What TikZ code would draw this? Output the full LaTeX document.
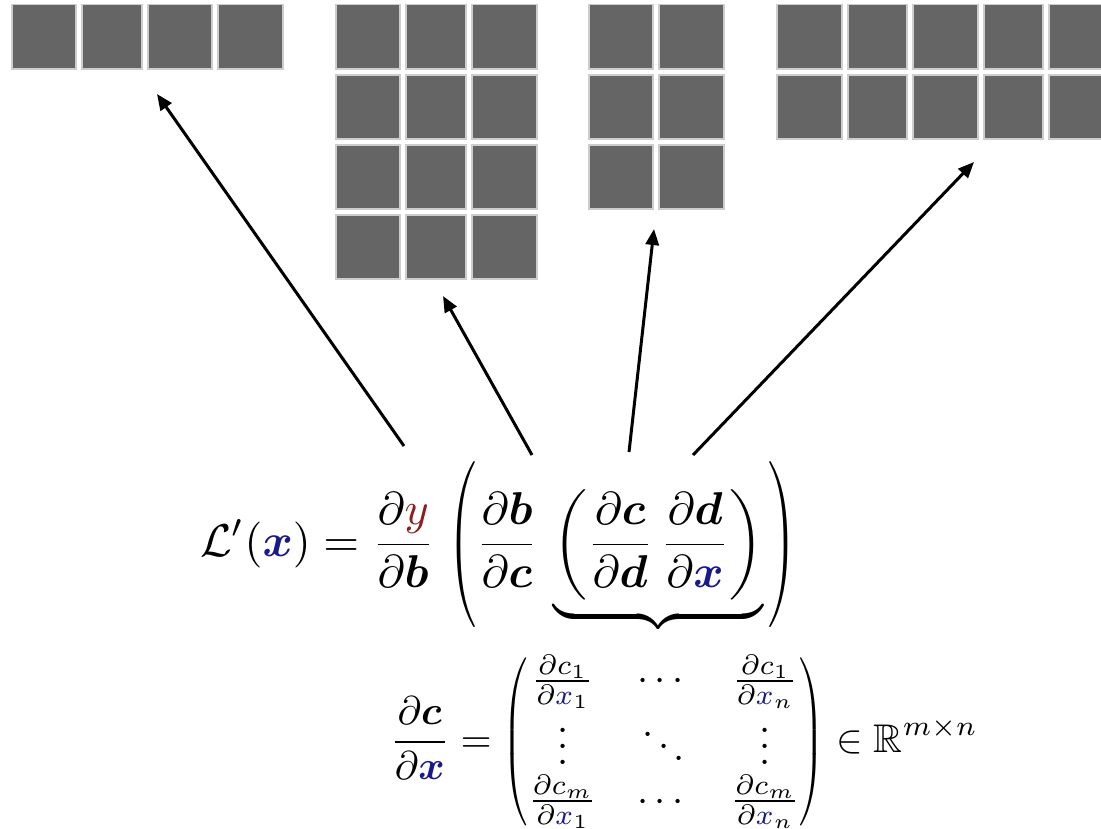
\documentclass[tikz,border=0pt]{standalone}
\usepackage{amsmath,amssymb,bm,graphicx}
\usetikzlibrary{arrows.meta}
\definecolor{xblue}{RGB}{25,25,140}
\definecolor{yred}{RGB}{140,30,30}
\definecolor{cellgray}{RGB}{101,101,101}
\definecolor{celledge}{RGB}{205,205,205}
\newcommand{\xb}{\textcolor{xblue}{\boldsymbol{x}}}
\newcommand{\xs}{\textcolor{xblue}{x}}
% slim parentheses sized to a given box
\newcommand{\lslim}[1]{\mathopen{\scalebox{0.72}[1]{$\nulldelimiterspace=0pt\left(\vphantom{#1}\right.$}}}
\newcommand{\rslim}[1]{\mathclose{\scalebox{0.72}[1]{$\nulldelimiterspace=0pt\left.\vphantom{#1}\right)$}}}
\newsavebox{\innerbox}
\newsavebox{\matbox}
\begin{document}
\begin{tikzpicture}[x=0.25pt,y=-0.25pt,
  cell/.style={fill=cellgray,draw=celledge,line width=0.3pt},
  link/.style={-{Triangle[length=4pt,width=3.3pt]},line width=0.75pt},
  eq/.style={inner sep=0pt,outer sep=0pt}]
\useasboundingbox (0,0) rectangle (1101,828);
\clip (0,0) rectangle (1101,828);

% grid 1: one row, four cells
\foreach \l/\r in {12/76,82/142,148/212,218/283}
  \path[cell] (\l,4.5) rectangle (\r,69);
% grid 2: four rows, three cells
\foreach \t/\b in {4.5/69,75/139,145/209,215/279}
  \foreach \l/\r in {336/400,406/466,472/537}
    \path[cell] (\l,\t) rectangle (\r,\b);
% grid 3: three rows, two cells
\foreach \t/\b in {4.5/69,75/139,145/209}
  \foreach \l/\r in {589/653,659/724}
    \path[cell] (\l,\t) rectangle (\r,\b);
% grid 4: two rows, five cells (last one runs off the edge)
\foreach \t/\b in {4.5/69,75/139}
  \foreach \l/\r in {777/842,848/907,913/978,984/1043,1049/1113}
    \path[cell] (\l,\t) rectangle (\r,\b);

% chain rule
\node[eq,anchor=base west] (chain) at (200,556) {%
  \sbox\innerbox{$\displaystyle
    \frac{\partial \boldsymbol{b}}{\partial \boldsymbol{c}}\,
    \underbrace{\left(\frac{\partial \boldsymbol{c}}{\partial \boldsymbol{d}}\mkern3mu
    \frac{\partial \boldsymbol{d}}{\partial \xb}\right)}\mkern2mu$}%
  \scalebox{1.15}{$\displaystyle
    \mathcal{L}'(\xb) = \frac{\partial \textcolor{yred}{y}}{\partial \boldsymbol{b}}\;
    \lslim{\usebox\innerbox}\usebox\innerbox\rslim{\usebox\innerbox}$}};

% Jacobian
\node[eq,anchor=base west] (jac) at (390,752) {%
  \sbox\matbox{$\begin{matrix}
    \frac{\partial c_1}{\partial \xs_1} & \cdots & \frac{\partial c_1}{\partial \xs_n}\\[-1pt]
    \vdots & \ddots & \vdots\\[-1pt]
    \frac{\partial c_m}{\partial \xs_1} & \cdots & \frac{\partial c_m}{\partial \xs_n}
  \end{matrix}$}%
  $\displaystyle
  \frac{\partial \boldsymbol{c}}{\partial \xb} =
  \lslim{\usebox\matbox}\usebox\matbox\rslim{\usebox\matbox} \in \mathbb{R}^{m\times n}$};

% arrow ends
\coordinate (s1) at (404,446);  \coordinate (t1) at (157,94);
\coordinate (s2) at (532,455);  \coordinate (t2) at (443,296);
\coordinate (s3) at (629,452);  \coordinate (t3) at (654,229);
\coordinate (s4) at (693,455);  \coordinate (t4) at (974,162);
\draw[link] (s1) -- (t1);
\draw[link] (s2) -- (t2);
\draw[link] (s3) -- (t3);
\draw[link] (s4) -- (t4);
\end{tikzpicture}
\end{document}
